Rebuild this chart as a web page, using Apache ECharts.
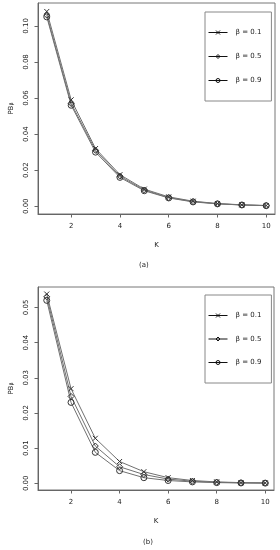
<!DOCTYPE html>
<html><head><meta charset="utf-8">
<script src="https://cdn.jsdelivr.net/npm/echarts@6/dist/echarts.min.js"></script>
<style>html,body{margin:0;padding:0;background:#fff}#c{width:280px;height:550px}</style>
</head><body><div id="c"></div>
<script>
var kValues = [1,2,3,4,5,6,7,8,9,10];
var seriesNames = ['β = 0.1','β = 0.5','β = 0.9'];
// panel (a)
var a_b01 = [0.108,0.059,0.032,0.0175,0.0095,0.0052,0.0028,0.0015,0.0008,0.0004];
var a_b05 = [0.106,0.057,0.031,0.0167,0.0090,0.0048,0.0026,0.0014,0.0007,0.0004];
var a_b09 = [0.105,0.056,0.030,0.0160,0.0086,0.0046,0.0024,0.0013,0.0007,0.0003];
// panel (b)
var b_b01 = [0.0538,0.0269,0.0128,0.0062,0.0033,0.0016,0.0008,0.0004,0.0002,0.0001];
var b_b05 = [0.0530,0.0247,0.0106,0.0047,0.0025,0.0012,0.0006,0.0003,0.00015,0.0001];
var b_b09 = [0.0520,0.0230,0.0088,0.0036,0.0016,0.0008,0.0004,0.0002,0.0001,0.00005];
var xTicks = [2,4,6,8,10];
var yTicksA = [0,0.02,0.04,0.06,0.08,0.10];
var yTicksB = [0,0.01,0.02,0.03,0.04,0.05];

var symbols = ['path://M0,0L10,10M10,0L0,10','diamond','circle'];
var FONT = 'DejaVu Sans';
function pairs(arr){ return kValues.map(function(k,i){return [k,arr[i]];}); }

function mkX(idx){
  return {gridIndex: idx, type:'value', min:0.64, max:10.36,
    name:'K', nameLocation:'middle', nameGap: 28,
    nameTextStyle:{fontFamily:FONT,fontSize:7,color:'#222'},
    axisLine:{show:true,onZero:false,lineStyle:{color:'#666',width:1}},
    axisTick:{show:true,length:3.5,customValues:xTicks,lineStyle:{color:'#666'}},
    axisLabel:{customValues:xTicks,fontFamily:FONT,fontSize:7,color:'#222',margin:9},
    splitLine:{show:false}};
}
function mkY(idx, min, max, ticks){
  return {gridIndex: idx, type:'value', min:min, max:max,
    name:'PB{s|β}', nameLocation:'middle', nameGap: 22,
    nameTextStyle:{fontFamily:FONT,fontSize:7,color:'#222',
      rich:{s:{fontSize:5,fontFamily:FONT,color:'#222'}}},
    axisLine:{show:true,onZero:false,lineStyle:{color:'#666',width:1}},
    axisTick:{show:true,length:3.5,customValues:ticks,lineStyle:{color:'#666'}},
    axisLabel:{customValues:ticks,rotate:90,fontFamily:FONT,fontSize:7,color:'#222',margin:8,
      formatter:function(v){return v.toFixed(2);}},
    splitLine:{show:false}};
}
var dataA = [a_b01,a_b05,a_b09], dataB = [b_b01,b_b05,b_b09];
var series = [];
[dataA,dataB].forEach(function(ds,gi){
  ds.forEach(function(d,i){
    series.push({name:seriesNames[i], type:'line', xAxisIndex:gi, yAxisIndex:gi,
      data:pairs(d), symbol:symbols[i], symbolSize: i===0?5:6, showAllSymbol:true,
      lineStyle:{color:'#707070',width:1},
      itemStyle:{color:'rgba(255,255,255,0)',borderColor:'#333',borderWidth:1},
      animation:false});
  });
});
function mkLegend(top, gap){
  return {orient:'vertical', left:205, top:top, itemWidth:19, itemHeight:5, itemGap:gap,
    padding:[17,10,17,3], borderColor:'#888', borderWidth:1,
    data: seriesNames.map(function(n,i){return {name:n,
      lineStyle:{color:'#111',width:1},
      itemStyle:{color:'rgba(255,255,255,0)',borderColor:'#111',borderWidth:1}};}),
    textStyle:{fontFamily:FONT,fontSize:7,color:'#222',padding:[0,0,0,3]},
    selectedMode:false};
}
var chart = echarts.init(document.getElementById('c'),null,{renderer:'canvas'});
chart.setOption({
  animation:false,
  grid:[
    {left:38, top:3, width:237, height:211, show:true, borderColor:'#777', borderWidth:1},
    {left:38, top:287, width:236, height:203, show:true, borderColor:'#777', borderWidth:1}
  ],
  xAxis:[mkX(0), mkX(1)],
  yAxis:[mkY(0,-0.0043,0.1127,yTicksA), mkY(1,-0.0019,0.0558,yTicksB)],
  legend:[ mkLegend(12,17), mkLegend(295,16.5) ],
  title:[
    {text:'(a)', left:139, top:262, textStyle:{fontFamily:FONT,fontSize:7,fontWeight:'normal',color:'#222'},padding:0},
    {text:'(b)', left:143, top:539, textStyle:{fontFamily:FONT,fontSize:7,fontWeight:'normal',color:'#222'},padding:0}
  ],
  series: series
});
</script></body></html>
